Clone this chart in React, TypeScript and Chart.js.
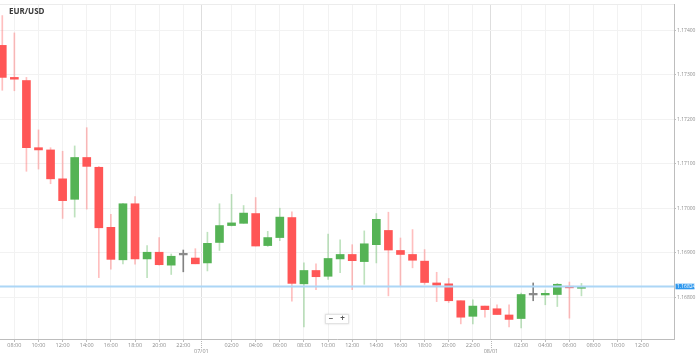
import React, { useEffect, useRef } from 'react';
import { Chart, registerables } from 'chart.js';

Chart.register(...registerables);

// hours counted from 00:00 on 06/30 (one candle per hour)
const hours = [7, 8, 9, 10, 11, 12, 13, 14, 15, 16, 17, 18, 19, 20, 21, 22, 23, 24, 25, 26, 27, 28, 29, 30, 31, 32, 33, 34, 35, 36, 37, 38, 39, 40, 41, 42, 43, 44, 45, 46, 47, 48, 49, 50, 51, 52, 53, 54, 55];
const opens = [1.17366, 1.17294, 1.17287, 1.17136, 1.17131, 1.17066, 1.1702, 1.17114, 1.17092, 1.16957, 1.16884, 1.1701, 1.16886, 1.16901, 1.16872, 1.16895, 1.16888, 1.16877, 1.16923, 1.16961, 1.16966, 1.16988, 1.16916, 1.16934, 1.16979, 1.1683, 1.1686, 1.16847, 1.16886, 1.16896, 1.1688, 1.16918, 1.1695, 1.16905, 1.16896, 1.16881, 1.16832, 1.1683, 1.16792, 1.16757, 1.1678, 1.16774, 1.1676, 1.16752, 1.16805, 1.16805, 1.16806, 1.16824, 1.1682];
const highs = [1.17433, 1.17394, 1.17294, 1.17176, 1.17136, 1.17128, 1.1714, 1.17181, 1.17094, 1.16986, 1.17011, 1.17026, 1.16916, 1.16934, 1.16897, 1.16906, 1.16909, 1.16946, 1.1701, 1.17031, 1.17006, 1.17024, 1.16948, 1.17, 1.16992, 1.16877, 1.16875, 1.16942, 1.16929, 1.16918, 1.16949, 1.16988, 1.16991, 1.16933, 1.16952, 1.16907, 1.16856, 1.16842, 1.16792, 1.16794, 1.1678, 1.16783, 1.16783, 1.16809, 1.16832, 1.16816, 1.16831, 1.16834, 1.16831];
const lows = [1.17265, 1.17264, 1.17083, 1.17088, 1.17055, 1.16977, 1.1698, 1.16998, 1.16844, 1.16863, 1.16875, 1.16874, 1.16844, 1.16872, 1.16851, 1.16857, 1.16875, 1.16859, 1.16905, 1.1696, 1.16966, 1.16915, 1.16914, 1.16927, 1.16791, 1.16733, 1.16817, 1.1684, 1.16855, 1.16817, 1.16829, 1.16877, 1.16803, 1.16826, 1.16866, 1.16829, 1.1679, 1.16788, 1.1674, 1.1674, 1.16755, 1.16761, 1.16733, 1.16731, 1.16792, 1.16783, 1.16779, 1.16753, 1.16803];
const closes = [1.17294, 1.1729, 1.17136, 1.17131, 1.17066, 1.17017, 1.17114, 1.17094, 1.16956, 1.16885, 1.1701, 1.16886, 1.16901, 1.16873, 1.16892, 1.16895, 1.16875, 1.16921, 1.16961, 1.16967, 1.16989, 1.16915, 1.16934, 1.1698, 1.16831, 1.1686, 1.16846, 1.16887, 1.16896, 1.16882, 1.1692, 1.16975, 1.16906, 1.16896, 1.16883, 1.16833, 1.16827, 1.16792, 1.16755, 1.1678, 1.16772, 1.16761, 1.1675, 1.16806, 1.16805, 1.16808, 1.16829, 1.16821, 1.16824];

const xTickValues = [8, 10, 12, 14, 16, 18, 20, 22, 23.5, 26, 28, 30, 32, 34, 36, 38, 40, 42, 44, 46, 47.5, 50, 52, 54, 56, 58, 60];
const xTickLabels = ['08:00', '10:00', '12:00', '14:00', '16:00', '18:00', '20:00', '22:00', '07/01', '02:00', '04:00', '06:00', '08:00', '10:00', '12:00', '14:00', '16:00', '18:00', '20:00', '22:00', '08/01', '02:00', '04:00', '06:00', '08:00', '10:00', '12:00'];
const daySeparators = [23.5, 47.5];
const yTickValues = [1.168, 1.169, 1.17, 1.171, 1.172, 1.173, 1.174];
const lastPrice = 1.16824;
const title = 'EUR/USD';

const UP = '#55b355';
const DOWN = '#ff5656';
const FLAT = '#8a8a8a';
const UP_WICK = 'rgba(85,179,85,0.38)';
const DOWN_WICK = 'rgba(255,86,86,0.38)';
const FLAT_WICK = 'rgba(110,110,110,0.85)';

export default function App() {
  const ref = useRef<HTMLCanvasElement | null>(null);

  useEffect(() => {
    const canvas = ref.current;
    if (!canvas) return;

    const bodyColors = opens.map((o, i) => (closes[i] > o ? UP : closes[i] < o ? DOWN : FLAT));
    const wickColors = opens.map((o, i) => (closes[i] > o ? UP_WICK : closes[i] < o ? DOWN_WICK : FLAT_WICK));

    const overlay = {
      id: 'overlay',
      beforeDatasetsDraw(chart: any) {
        const { ctx, chartArea } = chart;
        ctx.save();
        ctx.strokeStyle = '#ececec';
        ctx.lineWidth = 1;
        ctx.beginPath();
        ctx.moveTo(chartArea.left, chartArea.top + 0.5);
        ctx.lineTo(chartArea.right, chartArea.top + 0.5);
        ctx.stroke();
        ctx.restore();
      },
      afterDraw(chart: any) {
        const { ctx, chartArea, scales } = chart;
        const xs = scales.x;
        const ys = scales.y;
        ctx.save();
        // day separator dotted ticks
        ctx.strokeStyle = '#b5b5b5';
        ctx.lineWidth = 1;
        ctx.setLineDash([1, 1]);
        daySeparators.forEach((d) => {
          const px = Math.round(xs.getPixelForValue(d)) + 0.5;
          ctx.beginPath();
          ctx.moveTo(px, chartArea.bottom);
          ctx.lineTo(px, chartArea.bottom + 9);
          ctx.stroke();
        });
        ctx.setLineDash([]);
        // last price line
        const py = ys.getPixelForValue(lastPrice);
        ctx.strokeStyle = '#acd6f6';
        ctx.lineWidth = 2;
        ctx.beginPath();
        ctx.moveTo(chartArea.left, py);
        ctx.lineTo(chartArea.right, py);
        ctx.stroke();
        ctx.fillStyle = '#2f98ee';
        ctx.fillRect(chartArea.right + 1.5, py - 2.8, 19, 5.6);
        ctx.fillStyle = '#ffffff';
        ctx.font = '5px "Open Sans"';
        ctx.textBaseline = 'middle';
        ctx.textAlign = 'left';
        ctx.fillText(lastPrice.toFixed(5), chartArea.right + 3, py + 0.2);
        // title
        ctx.fillStyle = '#3a3a3a';
        ctx.font = 'bold 8px "Open Sans"';
        ctx.textBaseline = 'middle';
        ctx.fillText(title, 9, 12);
        // zoom control
        ctx.shadowColor = 'rgba(0,0,0,0.15)';
        ctx.shadowBlur = 2;
        ctx.fillStyle = '#ffffff';
        ctx.fillRect(325, 314, 24, 10);
        ctx.shadowBlur = 0;
        ctx.strokeStyle = '#e3e3e3';
        ctx.lineWidth = 1;
        ctx.strokeRect(325.5, 314.5, 23, 9);
        ctx.fillStyle = '#555555';
        ctx.font = 'bold 8px "Open Sans"';
        ctx.textAlign = 'center';
        ctx.fillText('−', 331, 319);
        ctx.fillText('+', 342.5, 319);
        ctx.restore();
      },
    };

    const chart = new Chart(canvas, {
      type: 'bar',
      data: {
        datasets: [
          {
            data: hours.map((h, i) => ({ x: h, y: [opens[i], closes[i]] })) as any,
            backgroundColor: bodyColors,
            barThickness: 8,
            grouped: false,
            minBarLength: 1.6,
            borderWidth: 0,
            borderSkipped: false,
          } as any,
          {
            data: hours.map((h, i) => ({ x: h, y: [lows[i], highs[i]] })) as any,
            backgroundColor: wickColors,
            barThickness: 1,
            grouped: false,
            borderWidth: 0,
            borderSkipped: false,
          } as any,
        ],
      },
      options: {
        animation: false,
        responsive: false,
        devicePixelRatio: 1,
        layout: { padding: 0 },
        plugins: { legend: { display: false }, tooltip: { enabled: false }, title: { display: false } },
        scales: {
          x: {
            type: 'linear',
            min: 6.81,
            max: 62.67,
            offset: false,
            grid: {
              offset: false,
              color: (c: any) => (c.tick && daySeparators.includes(c.tick.value) ? '#dedede' : '#f2f2f2'),
              tickColor: (c: any) => (c.tick && daySeparators.includes(c.tick.value) ? 'rgba(0,0,0,0)' : '#bdbdbd'),
              tickLength: 3,
            },
            border: { display: true, color: '#bdbdbd' },
            ticks: {
              autoSkip: false,
              maxRotation: 0,
              minRotation: 0,
              padding: 0,
              color: '#8c8c8c',
              font: { size: 5.5, family: '"Open Sans"' },
              callback: (v: any) => {
                const i = xTickValues.indexOf(Number(v));
                if (i < 0) return '';
                return daySeparators.includes(Number(v)) ? ['', xTickLabels[i]] : xTickLabels[i];
              },
            },
            afterBuildTicks: (s: any) => {
              s.ticks = xTickValues.map((v) => ({ value: v }));
            },
            afterFit: (s: any) => {
              s.height = 19;
            },
          },
          y: {
            type: 'linear',
            position: 'right',
            min: 1.16706,
            max: 1.17459,
            beginAtZero: false,
            grid: { color: '#f2f2f2', tickColor: '#bdbdbd', tickLength: 2 },
            border: { display: true, color: '#bdbdbd' },
            ticks: {
              padding: 1,
              color: '#8c8c8c',
              font: { size: 5, family: '"Open Sans"' },
              callback: (v: any) => Number(v).toFixed(5),
            },
            afterBuildTicks: (s: any) => {
              s.ticks = yTickValues.map((v) => ({ value: v }));
            },
            afterFit: (s: any) => {
              s.width = 25;
            },
          },
        },
      } as any,
      plugins: [overlay],
    });

    return () => chart.destroy();
  }, []);

  return (
    <div style={{ position: 'fixed', left: 0, top: 0, width: 699, height: 358, background: '#ffffff' }}>
      <canvas ref={ref} width={699} height={358} style={{ display: 'block', width: 699, height: 358 }} />
    </div>
  );
}
